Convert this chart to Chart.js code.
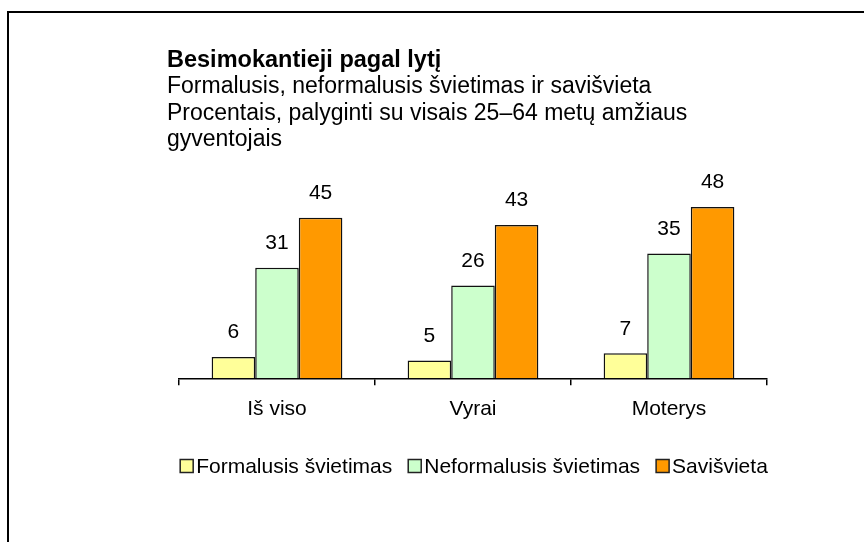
<!DOCTYPE html>
<html>
<head>
<meta charset="utf-8">
<script src="https://cdn.jsdelivr.net/npm/chart.js@4.4.1/dist/chart.umd.min.js"></script>
<style>
  html, body { margin: 0; padding: 0; background: #ffffff; }
  #wrap { position: relative; width: 864px; height: 542px; overflow: hidden; }
  #frame { position: absolute; left: 7px; top: 11px; width: 900px; height: 600px;
           border-top: 2px solid #000; border-left: 2px solid #000; }
  canvas { position: absolute; left: 0; top: 0; }
</style>
</head>
<body>
<div id="wrap">
  <div id="frame"></div>
  <canvas id="c" width="864" height="542"></canvas>
</div>
<script>
// ---- data ----
const titleText = "Besimokantieji pagal lytį";
const subtitleLines = [
  "Formalusis, neformalusis švietimas ir savišvieta",
  "Procentais, palyginti su visais 25–64 metų amžiaus",
  "gyventojais"
];
const categories = ["Iš viso", "Vyrai", "Moterys"];
const seriesNames = ["Formalusis švietimas", "Neformalusis švietimas", "Savišvieta"];
const formalusis = [6, 5, 7];
const neformalusis = [31, 26, 35];
const saviSvieta = [45, 43, 48];
const seriesColors = ["#FFFF99", "#CCFFCC", "#FF9900"];

const FONT = "'Liberation Sans', Arial, sans-serif";

const valueLabels = {
  id: 'valueLabels',
  afterDatasetsDraw(chart) {
    const ctx = chart.ctx;
    ctx.save();
    ctx.font = "21px " + FONT;
    ctx.fillStyle = "#000";
    ctx.textAlign = "center";
    ctx.textBaseline = "middle";
    chart.data.datasets.forEach((ds, i) => {
      const meta = chart.getDatasetMeta(i);
      meta.data.forEach((el, j) => {
        ctx.fillText(String(ds.data[j]), el.x, el.y - 24.5);
      });
    });
    ctx.restore();
  }
};

const customLegend = {
  id: 'customLegend',
  afterDraw(chart) {
    const ctx = chart.ctx;
    const box = 13, gapBT = 3, gapItem = 16, cy = 466;
    ctx.save();
    ctx.font = "21px " + FONT;
    ctx.textBaseline = "middle";
    ctx.textAlign = "left";
    const items = chart.data.datasets.map(ds => ({
      text: ds.label, color: ds.backgroundColor, w: ctx.measureText(ds.label).width
    }));
    let total = 0;
    items.forEach((it, i) => { total += box + gapBT + it.w + (i < items.length - 1 ? gapItem : 0); });
    const ca = chart.chartArea;
    let x = (ca.left + ca.right) / 2 + 1 - total / 2;
    items.forEach(it => {
      ctx.fillStyle = it.color;
      ctx.fillRect(x, cy - box / 2, box, box);
      ctx.lineWidth = 1.5;
      ctx.strokeStyle = "#222";
      ctx.strokeRect(x, cy - box / 2, box, box);
      ctx.fillStyle = "#000";
      ctx.fillText(it.text, x + box + gapBT, cy + 1);
      x += box + gapBT + it.w + gapItem;
    });
    ctx.restore();
  }
};

const seriesData = [formalusis, neformalusis, saviSvieta];

new Chart(document.getElementById('c'), {
  type: 'bar',
  data: {
    labels: categories,
    datasets: seriesNames.map((name, i) => ({
      label: name,
      data: seriesData[i],
      backgroundColor: seriesColors[i],
      borderColor: "#111",
      borderWidth: 1.5,
      categoryPercentage: 0.667,
      barPercentage: 1.0
    }))
  },
  options: {
    responsive: false,
    animation: false,
    devicePixelRatio: 1,
    layout: { padding: { top: 47, left: 167, right: 97, bottom: 109.5 } },
    plugins: {
      legend: { display: false },
      tooltip: { enabled: false },
      title: {
        display: true,
        text: titleText,
        align: 'start',
        color: '#000',
        font: { family: FONT, size: 23.5, weight: 'bold', lineHeight: 1.13 },
        padding: { top: 0, bottom: 0 }
      },
      subtitle: {
        display: true,
        text: subtitleLines,
        align: 'start',
        color: '#000',
        font: { family: FONT, size: 23, weight: 'normal', lineHeight: 1.15 },
        padding: { top: 0, bottom: 47 }
      }
    },
    scales: {
      x: {
        offset: true,
        grid: { display: true, drawOnChartArea: false, drawTicks: true, tickLength: 7, color: '#000', lineWidth: 1.5, offset: true },
        border: { display: true, color: '#000', width: 1.5 },
        ticks: { color: '#000', font: { family: FONT, size: 21 }, padding: 11, maxRotation: 0 }
      },
      y: {
        min: 0, max: 50,
        display: true,
        grid: { display: false },
        border: { display: false },
        ticks: { display: false },
        afterFit(scale) { scale.width = 12; }
      }
    }
  },
  plugins: [valueLabels, customLegend]
});
</script>
</body>
</html>
